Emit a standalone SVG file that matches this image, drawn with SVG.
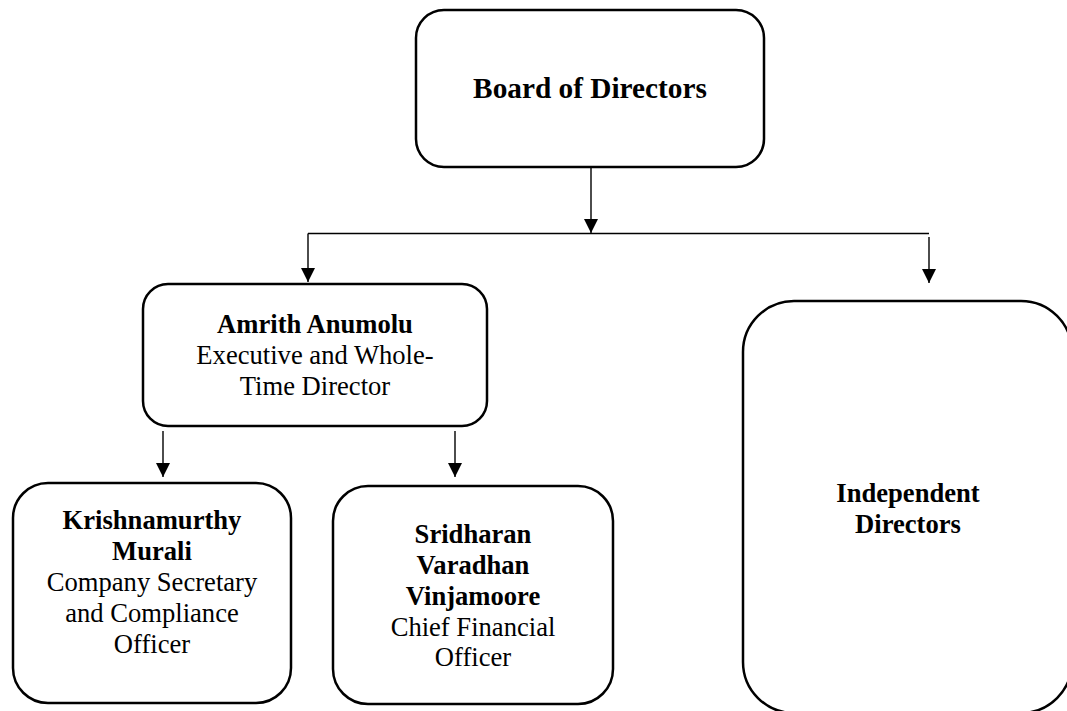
<svg xmlns="http://www.w3.org/2000/svg" width="1067" height="711" viewBox="0 0 1067 711">
<style>
.box{fill:#fff;stroke:#000;stroke-width:2.5}
.con{fill:none;stroke:#000;stroke-width:1.4}
text{font-family:"Liberation Serif","Times New Roman",serif;font-size:26.6px;fill:#000;text-anchor:middle}
.b{font-weight:bold}
.big{font-size:29.3px}
</style>
<defs>
<marker id="arr" viewBox="0 0 14 14" refX="14" refY="7" markerWidth="14" markerHeight="14" markerUnits="userSpaceOnUse" orient="auto">
<path d="M0,0 L14,7 L0,14 z" fill="#000"/>
</marker>
</defs>
<rect width="1067" height="711" fill="#fff"/>
<g id="connectors">
<path class="con" d="M591,167 V233" marker-end="url(#arr)"/>
<path class="con" d="M308,233.5 H929"/>
<path class="con" d="M308,233.5 V282" marker-end="url(#arr)"/>
<path class="con" d="M929,237 V283" marker-end="url(#arr)"/>
<path class="con" d="M163,431 V477" marker-end="url(#arr)"/>
<path class="con" d="M455,431 V477" marker-end="url(#arr)"/>
</g>
<g id="board">
<rect class="box" x="416" y="10" width="348" height="157" rx="28"/>
<text class="b big" x="590" y="98">Board of Directors</text>
</g>
<g id="amrith">
<rect class="box" x="143" y="284" width="344" height="142" rx="25"/>
<text class="b" x="315" y="333">Amrith Anumolu</text>
<text x="315" y="364">Executive and Whole-</text>
<text x="315" y="395">Time Director</text>
</g>
<g id="krishnamurthy">
<rect class="box" x="13" y="483" width="278" height="220" rx="35"/>
<text class="b" x="152" y="529">Krishnamurthy</text>
<text class="b" x="152" y="560">Murali</text>
<text x="152" y="591">Company Secretary</text>
<text x="152" y="622">and Compliance</text>
<text x="152" y="653">Officer</text>
</g>
<g id="sridharan">
<rect class="box" x="333" y="486" width="280" height="218" rx="35"/>
<text class="b" x="473" y="543">Sridharan</text>
<text class="b" x="473" y="574">Varadhan</text>
<text class="b" x="473" y="605">Vinjamoore</text>
<text x="473" y="636">Chief Financial</text>
<text x="473" y="666">Officer</text>
</g>
<g id="independent">
<rect class="box" x="743" y="301" width="329" height="412" rx="51"/>
<text class="b" x="908" y="502">Independent</text>
<text class="b" x="908" y="533">Directors</text>
</g>
</svg>
